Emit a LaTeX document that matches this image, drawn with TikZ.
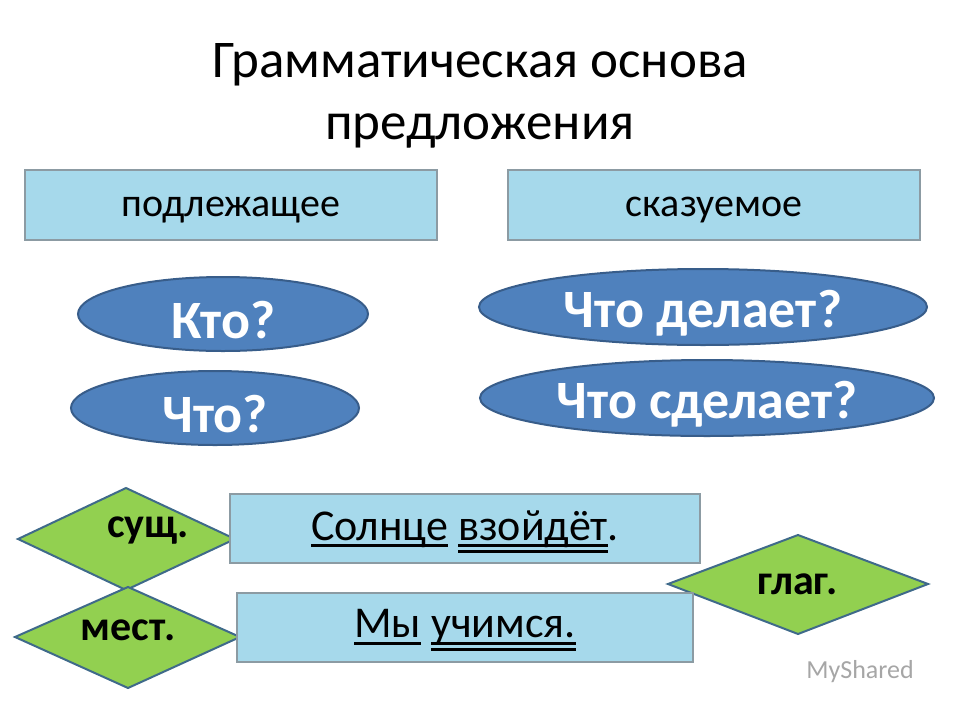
\documentclass[tikz,border=0pt]{standalone}
\usepackage{fontspec}
\setmainfont{Carlito}
\usetikzlibrary{shapes.geometric}
\definecolor{boxfill}{HTML}{A6D9EB}
\definecolor{boxedge}{HTML}{8C9BA3}
\definecolor{ellfill}{HTML}{4F81BD}
\definecolor{elledge}{HTML}{385D8A}
\definecolor{dfill}{HTML}{92D050}
\definecolor{dedge}{HTML}{3F6A8A}
\tikzset{
 hbox/.style={draw=boxedge,line width=2pt,fill=boxfill},
 btext/.style={font=\fontsize{40}{46}\selectfont},
 ell/.style={ellipse,draw=elledge,line width=2pt,fill=ellfill,inner sep=0pt},
 etext/.style={text=white,font=\bfseries\fontsize{54}{60}\selectfont},
 dia/.style={draw=dedge,line width=2pt,fill=dfill},
 dtext/.style={font=\bfseries\fontsize{42}{46}\selectfont},
 sent/.style={font=\fontsize{44}{50}\selectfont}
}
\newcommand{\sul}[1]{\setbox0\hbox{#1}\rlap{\vrule width\wd0 height -4pt depth 7pt}\box0}
\newcommand{\dul}[1]{\setbox0\hbox{#1}\rlap{\vrule width\wd0 height -4pt depth 7pt}\rlap{\vrule width\wd0 height -10pt depth 13pt}\box0}
\begin{document}
\begin{tikzpicture}[x=1pt,y=-1pt]
\useasboundingbox (0,0) rectangle (960,720);
\node[font=\fontsize{53}{62}\selectfont,align=center] (title) at (480,96) {Грамматическая основа\\предложения};
\draw[hbox] (25,170) rectangle (437,240);
\node[btext] (p) at (231,210) {подлежащее};
\draw[hbox] (508,170) rectangle (920,240);
\node[btext] (s) at (714,210) {сказуемое};
\node[ell,minimum width=290,minimum height=74] (kto) at (223,314) {};
\node[etext] (ktot) at (223,320) {Кто?};
\node[ell,minimum width=288,minimum height=74] (chto) at (215,408) {};
\node[etext] (chtot) at (215,414) {Что?};
\node[ell,minimum width=448,minimum height=76] (del) at (703,307) {};
\node[etext] (delt) at (703,313) {Что делает?};
\node[ell,minimum width=454,minimum height=76] (sdel) at (707,398) {};
\node[etext] (sdelt) at (707,404) {Что сделает?};
\draw[dia] (18,539) -- (126,488) -- (235,539) -- (126,590) -- cycle;
\node[dtext] (sush) at (148,531) {сущ.};
\draw[dia] (15,637) -- (128,587) -- (240,637) -- (128,688) -- cycle;
\node[dtext] (mest) at (128,630) {мест.};
\draw[dia] (668,584) -- (798,535) -- (928,584) -- (798,634) -- cycle;
\node[dtext] (glag) at (798,584) {глаг.};
\draw[hbox] (230,494) rectangle (700,563);
\node[sent] (s1) at (465,532) {\sul{Солнце}\ \dul{взойдёт}.};
\draw[hbox] (237,593) rectangle (693,662);
\node[sent] (s2) at (465,630) {\sul{Мы}\ \dul{учимся.}};
\node[text=gray!70,font=\fontsize{26}{30}\selectfont] (wm) at (860,672) {MyShared};
\end{tikzpicture}
\end{document}
